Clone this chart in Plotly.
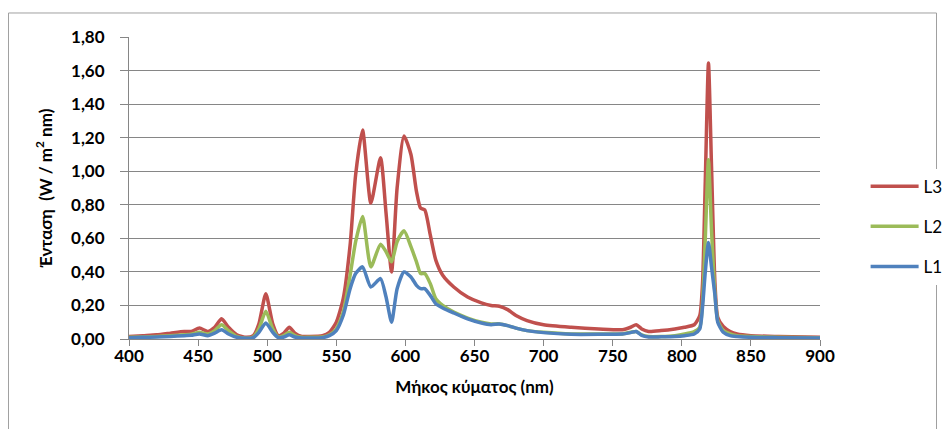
import plotly.graph_objects as go

# wavelengths (nm) and irradiance
wavelength = [400, 410, 420, 430, 440, 445, 451, 457, 462, 467, 472, 478, 485, 490,
              494, 499, 504, 508, 512, 516, 520, 525, 530, 540, 545, 550, 555, 560,
              564, 569, 575, 582, 586, 590, 594, 599, 604, 608, 611, 614, 618, 622,
              627, 635, 645, 655, 662, 668, 674, 680, 688, 700, 720, 740, 757, 763,
              767, 771, 776, 785, 795, 802, 809, 813, 815, 817, 819.3, 821.5, 824,
              826, 830, 835, 840, 850, 870, 900]

l3 = [0.015, 0.02, 0.025, 0.035, 0.045, 0.045, 0.065, 0.045, 0.07, 0.12, 0.07, 0.025,
      0.01, 0.02, 0.09, 0.27, 0.09, 0.02, 0.035, 0.07, 0.035, 0.015, 0.015, 0.02, 0.04,
      0.10, 0.24, 0.56, 0.98, 1.245, 0.81, 1.08, 0.75, 0.40, 0.90, 1.21, 1.10, 0.88,
      0.78, 0.77, 0.62, 0.47, 0.38, 0.31, 0.25, 0.215, 0.20, 0.195, 0.175, 0.14, 0.11,
      0.085, 0.07, 0.06, 0.055, 0.07, 0.085, 0.06, 0.045, 0.05, 0.06, 0.07, 0.085,
      0.14, 0.33, 0.94, 1.645, 1.03, 0.33, 0.13, 0.075, 0.045, 0.03, 0.02, 0.015, 0.01]

l2 = [0.01, 0.012, 0.015, 0.02, 0.025, 0.028, 0.04, 0.03, 0.05, 0.085, 0.05, 0.015,
      0.005, 0.012, 0.06, 0.165, 0.06, 0.012, 0.02, 0.04, 0.02, 0.01, 0.01, 0.012, 0.025,
      0.06, 0.16, 0.38, 0.58, 0.73, 0.43, 0.565, 0.52, 0.46, 0.58, 0.645, 0.55, 0.46,
      0.39, 0.39, 0.33, 0.24, 0.20, 0.16, 0.125, 0.10, 0.09, 0.09, 0.08, 0.065, 0.05,
      0.04, 0.03, 0.03, 0.03, 0.04, 0.045, 0.025, 0.015, 0.015, 0.02, 0.03, 0.045,
      0.07, 0.22, 0.60, 1.068, 0.65, 0.27, 0.11, 0.05, 0.03, 0.02, 0.015, 0.01, 0.008]

l1 = [0.008, 0.01, 0.012, 0.015, 0.02, 0.022, 0.03, 0.02, 0.035, 0.055, 0.03, 0.01,
      0.004, 0.008, 0.04, 0.095, 0.04, 0.008, 0.012, 0.025, 0.012, 0.006, 0.006, 0.008,
      0.02, 0.05, 0.14, 0.30, 0.39, 0.43, 0.31, 0.36, 0.25, 0.10, 0.30, 0.40, 0.37, 0.32,
      0.30, 0.30, 0.26, 0.21, 0.185, 0.155, 0.12, 0.095, 0.085, 0.09, 0.08, 0.065, 0.05,
      0.038, 0.028, 0.028, 0.03, 0.038, 0.045, 0.022, 0.012, 0.013, 0.015, 0.02, 0.03,
      0.06, 0.19, 0.40, 0.575, 0.43, 0.26, 0.10, 0.04, 0.02, 0.015, 0.01, 0.008, 0.006]

series = [('L3', l3, '#C0504D'), ('L2', l2, '#9BBB59'), ('L1', l1, '#4F81BD')]

FONT = 'Lato, "Noto Sans", sans-serif'
GRID = '#868686'

fig = go.Figure()
for name, vals, color in series:
    fig.add_trace(go.Scatter(x=wavelength, y=vals, name=name, mode='lines',
                             legendgroup=name,
                             line=dict(color=color, width=3.5, shape='spline', smoothing=0.6)))

# page has an 8px body margin, so margins are shifted by 8px
fig.update_layout(
    width=952, height=429,
    margin=dict(l=121, r=137, t=29, b=98),
    paper_bgcolor='white',
    plot_bgcolor='white',
    separators=',.',
    font=dict(family=FONT, size=17, color='#000000'),
    legend=dict(x=1.066, xanchor='left', y=0.372, yanchor='middle',
                tracegroupgap=15, itemwidth=48, font=dict(size=17)),
    shapes=[dict(type='rect', xref='paper', yref='paper',
                 x0=-0.1744, x1=1.1686, y0=-0.32, y1=1.0795,
                 line=dict(color='#A0A0A0', width=1))],
)

fig.update_xaxes(range=[400, 900], dtick=50, tick0=400,
                 showgrid=False, showline=True, linecolor=GRID, linewidth=1,
                 ticks='outside', ticklen=6, tickcolor=GRID, ticklabelstandoff=-4,
                 tickfont=dict(size=17, family=FONT, weight='bold'),
                 title=dict(text='Μήκος κύματος (nm)', standoff=15,
                            font=dict(size=17, family=FONT, weight='bold')))
fig.update_yaxes(range=[0, 1.8], dtick=0.2, tick0=0, tickformat='.2f',
                 showgrid=True, gridcolor=GRID, gridwidth=1, zeroline=False,
                 showline=True, linecolor=GRID, linewidth=1,
                 ticks='outside', ticklen=8, tickcolor=GRID, ticklabelstandoff=12,
                 tickfont=dict(size=17, family=FONT, weight='bold'),
                 title=dict(text='Ένταση  (W / m<sup>2</sup> nm)', standoff=14,
                            font=dict(size=17, family=FONT, weight='bold')))

fig.write_html('out.html')
